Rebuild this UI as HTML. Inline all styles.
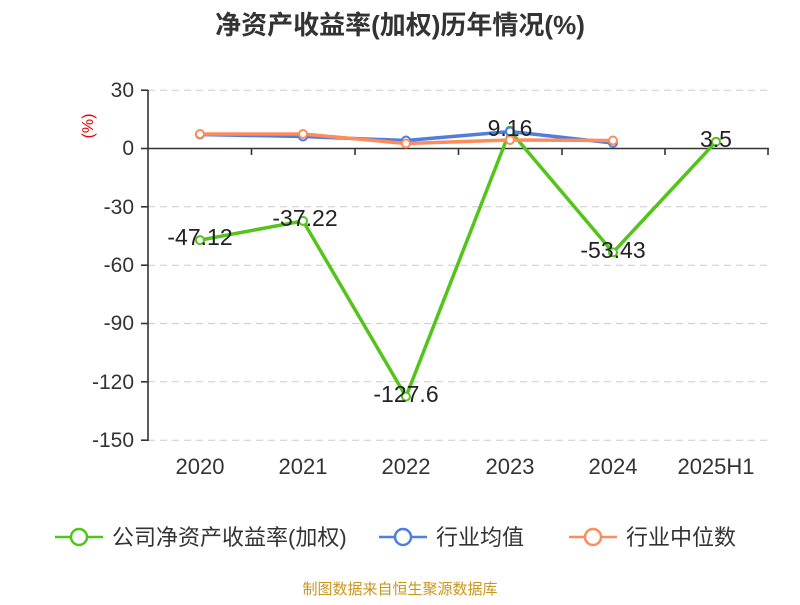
<!DOCTYPE html>
<html><head><meta charset="utf-8"><style>
body{margin:0;background:#fff}
svg text{font-family:"Liberation Sans","Noto Sans CJK SC",sans-serif}
</style></head><body>
<svg width="800" height="600" xmlns="http://www.w3.org/2000/svg">
<text x="400" y="34" text-anchor="middle" font-size="26" font-weight="bold" fill="#333">净资产收益率(加权)历年情况(%)</text>
<g stroke="#ccc" stroke-dasharray="7,5" stroke-width="1">
<line x1="148" x2="768" y1="90.2" y2="90.2"/>
<line x1="148" x2="768" y1="206.8" y2="206.8"/>
<line x1="148" x2="768" y1="265.2" y2="265.2"/>
<line x1="148" x2="768" y1="323.5" y2="323.5"/>
<line x1="148" x2="768" y1="381.8" y2="381.8"/>
<line x1="148" x2="768" y1="440.2" y2="440.2"/>
</g>
<g stroke="#333" stroke-width="1.6">
<line x1="148" x2="148" y1="90" y2="441"/>
<line x1="148" x2="769" y1="148.5" y2="148.5"/>
<line x1="141" x2="148" y1="90.2" y2="90.2"/><line x1="141" x2="148" y1="148.5" y2="148.5"/>
<line x1="141" x2="148" y1="206.8" y2="206.8"/><line x1="141" x2="148" y1="265.2" y2="265.2"/>
<line x1="141" x2="148" y1="323.5" y2="323.5"/><line x1="141" x2="148" y1="381.8" y2="381.8"/>
<line x1="141" x2="148" y1="440.2" y2="440.2"/>
<line x1="251.5" x2="251.5" y1="148.5" y2="155"/><line x1="355" x2="355" y1="148.5" y2="155"/>
<line x1="458.5" x2="458.5" y1="148.5" y2="155"/><line x1="562" x2="562" y1="148.5" y2="155"/>
<line x1="665" x2="665" y1="148.5" y2="155"/><line x1="768" x2="768" y1="148.5" y2="155"/>
</g>
<g font-size="21" fill="#333" text-anchor="end">
<text x="134" y="97">30</text><text x="134" y="155">0</text><text x="134" y="214">-30</text>
<text x="134" y="272">-60</text><text x="134" y="330">-90</text><text x="134" y="389">-120</text><text x="134" y="447">-150</text>
</g>
<text transform="translate(93,126) rotate(-90)" font-size="16" fill="#e00" text-anchor="middle">(%)</text>
<g font-size="22" fill="#333" text-anchor="middle">
<text x="200" y="474">2020</text><text x="303" y="474">2021</text><text x="406" y="474">2022</text>
<text x="510" y="474">2023</text><text x="613" y="474">2024</text><text x="716" y="474">2025H1</text>
</g>
<polyline fill="none" stroke="#52c41a" stroke-width="3.5" points="200,240.1 303,220.9 406,396.6 510,130.7 613,252.4 716,141.7"/>
<polyline fill="none" stroke="#4e7ee0" stroke-width="3.5" points="200,134.5 303,136.5 406,140.5 510,131.5 613,143"/>
<polyline fill="none" stroke="#ff8c5a" stroke-width="3.5" points="200,134 303,134 406,143.5 510,140 613,140.5"/>
<g fill="#fff" stroke-width="2">
<g stroke="#52c41a"><circle cx="200" cy="240.1" r="4"/><circle cx="303" cy="220.9" r="4"/><circle cx="406" cy="396.6" r="4"/><circle cx="510" cy="130.7" r="4"/><circle cx="613" cy="252.4" r="4"/><circle cx="716" cy="141.7" r="4"/></g>
<g stroke="#4e7ee0"><circle cx="200" cy="134.5" r="4"/><circle cx="303" cy="136.5" r="4"/><circle cx="406" cy="140.5" r="4"/><circle cx="510" cy="131.5" r="4"/><circle cx="613" cy="143" r="4"/></g>
<g stroke="#ff8c5a"><circle cx="200" cy="134" r="4"/><circle cx="303" cy="134" r="4"/><circle cx="406" cy="143.5" r="4"/><circle cx="510" cy="140" r="4"/><circle cx="613" cy="140.5" r="4"/></g>
</g>
<g font-size="23" fill="#222" text-anchor="middle">
<text x="200" y="245">-47.12</text><text x="305" y="226">-37.22</text><text x="406" y="402">-127.6</text>
<text x="510" y="136">9.16</text><text x="613" y="258">-53.43</text><text x="716" y="147">3.5</text>
</g>
<g stroke-width="2.5" fill="#fff">
<line x1="55" x2="103" y1="537" y2="537" stroke="#52c41a"/><circle cx="79" cy="537" r="8" stroke="#52c41a"/>
<line x1="379" x2="427" y1="537" y2="537" stroke="#4e7ee0"/><circle cx="403" cy="537" r="8" stroke="#4e7ee0"/>
<line x1="569" x2="617" y1="537" y2="537" stroke="#ff8c5a"/><circle cx="593" cy="537" r="8" stroke="#ff8c5a"/>
</g>
<g font-size="22" fill="#333">
<text x="112" y="545">公司净资产收益率(加权)</text><text x="436" y="545">行业均值</text><text x="626" y="545">行业中位数</text>
</g>
<text x="400" y="594" text-anchor="middle" font-size="15" fill="#c8961e">制图数据来自恒生聚源数据库</text>
</svg>
</body></html>
